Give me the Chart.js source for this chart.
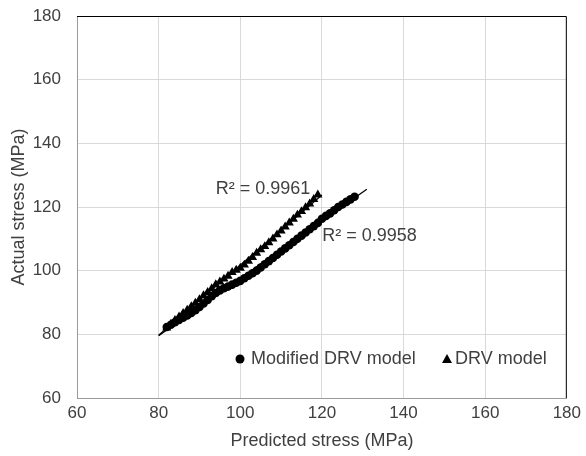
<!DOCTYPE html>
<html>
<head>
<meta charset="utf-8">
<script src="https://cdn.jsdelivr.net/npm/chart.js@4.4.1/dist/chart.umd.min.js"></script>
<style>
  html, body { margin: 0; padding: 0; background: #ffffff; }
  #wrap { width: 586px; height: 456px; }
</style>
</head>
<body>
<div id="wrap"><canvas id="stressChart" width="586" height="456"></canvas></div>
<script>
// Modified DRV model (circles)
const modPredicted = [82, 83, 84, 85, 86, 87, 88, 89, 90, 91, 92, 93, 94, 95, 96, 97, 98, 99, 100, 101, 102, 103, 104, 105,
    106, 107, 108, 109, 110, 111, 112, 113, 114, 115, 116, 117, 118, 119, 120, 121, 122, 123, 124, 125, 126, 127, 128];
const modActual = [82.3, 83, 83.8, 84.5, 85.2, 85.9, 86.7, 87.6, 88.6, 89.7, 90.8, 92, 93, 93.8, 94.5, 95, 95.6, 96.2, 96.8, 97.6, 98.4, 99.2, 100, 101,
    102, 103, 104, 105, 106, 107, 108, 109, 110, 111, 112, 113, 114, 115, 116.3, 117.2, 118, 119, 120, 120.8, 121.6, 122.4, 123.2];

// DRV model (triangles)
const drvPredicted = [82, 83, 84, 85, 86, 87, 88, 89, 90, 91, 92, 93, 94, 95, 96, 97, 98, 99, 100,
    101, 102, 103, 104, 105, 106, 107, 108, 109, 110, 111, 112, 113, 114, 115, 116, 117, 118, 119];
const drvActual = [82, 83.2, 84.4, 85.5, 86.6, 87.6, 88.7, 89.8, 90.9, 92.2, 93.2, 94.4, 95.6, 96.5, 97.4, 98.3, 99.5, 100.2, 100.8,
    101.8, 103, 104.2, 105.5, 106.6, 107.6, 108.8, 110, 111.3, 112.5, 113.8, 115, 116.2, 117.5, 118.6, 119.8, 121, 122.4, 123.8];

// Trendline extents and R² labels
const modTrendRange = [80, 131];
const drvTrendRange = [80, 120];
const modR2 = 'R² = 0.9958';
const drvR2 = 'R² = 0.9961';
const modR2At = [120.1, 111];
const drvR2At = [94, 125.8];

const legendLabels = ['Modified DRV model', 'DRV model'];

function toPoints(xs, ys) {
    return xs.map((x, i) => ({ x: x, y: ys[i] }));
}

// least squares linear fit, like an Excel trendline
function trend(xs, ys, range) {
    const n = xs.length;
    const mx = xs.reduce((a, b) => a + b, 0) / n;
    const my = ys.reduce((a, b) => a + b, 0) / n;
    let sxy = 0, sxx = 0;
    for (let i = 0; i < n; i++) {
        sxy += (xs[i] - mx) * (ys[i] - my);
        sxx += (xs[i] - mx) * (xs[i] - mx);
    }
    const slope = sxy / sxx;
    const icpt = my - slope * mx;
    return range.map(x => ({ x: x, y: icpt + slope * x }));
}

const FONT = "'Liberation Sans', Arial, sans-serif";
const TEXT = '#404040';

// border, R² labels and in-plot legend
const extras = {
    id: 'extras',
    beforeDatasetsDraw(chart) {
        const { ctx, chartArea: a } = chart;
        ctx.save();
        ctx.strokeStyle = '#000000';
        ctx.lineWidth = 1;
        ctx.beginPath();
        ctx.moveTo(a.left, a.top + 0.5);
        ctx.lineTo(a.right - 0.5, a.top + 0.5);
        ctx.lineTo(a.right - 0.5, a.bottom);
        ctx.stroke();
        ctx.restore();
    },
    afterDatasetsDraw(chart) {
        const { ctx, chartArea: a, scales } = chart;
        ctx.save();
        ctx.fillStyle = TEXT;
        ctx.font = '18px ' + FONT;
        ctx.textBaseline = 'middle';
        ctx.textAlign = 'left';
        ctx.fillText(drvR2, scales.x.getPixelForValue(drvR2At[0]), scales.y.getPixelForValue(drvR2At[1]));
        ctx.fillText(modR2, scales.x.getPixelForValue(modR2At[0]), scales.y.getPixelForValue(modR2At[1]));

        // legend
        const ly = a.bottom - 39;
        let lx = a.left + 163;
        ctx.fillStyle = '#000000';
        ctx.beginPath();
        ctx.arc(lx, ly, 4.5, 0, Math.PI * 2);
        ctx.fill();
        ctx.fillStyle = TEXT;
        ctx.fillText(legendLabels[0], lx + 11, ly);
        lx = a.left + 370;
        ctx.fillStyle = '#000000';
        ctx.beginPath();
        ctx.moveTo(lx, ly - 5);
        ctx.lineTo(lx + 5, ly + 4);
        ctx.lineTo(lx - 5, ly + 4);
        ctx.closePath();
        ctx.fill();
        ctx.fillStyle = TEXT;
        ctx.fillText(legendLabels[1], lx + 8, ly);
        ctx.restore();
    }
};

const ctx = document.getElementById('stressChart').getContext('2d');

const stressChart = new Chart(ctx, {
    type: 'scatter',
    data: {
        datasets: [
            {
                label: legendLabels[0],
                data: toPoints(modPredicted, modActual),
                pointStyle: 'circle',
                pointRadius: 4.3,
                backgroundColor: '#000000',
                borderColor: '#000000',
                borderWidth: 0
            },
            {
                label: legendLabels[1],
                data: toPoints(drvPredicted, drvActual),
                pointStyle: 'triangle',
                pointRadius: 5.3,
                backgroundColor: '#000000',
                borderColor: '#000000',
                borderWidth: 0
            },
            {
                type: 'line',
                label: 'Modified trend',
                data: trend(modPredicted, modActual, modTrendRange),
                borderColor: '#000000',
                borderWidth: 1.3,
                pointRadius: 0,
                fill: false
            },
            {
                type: 'line',
                label: 'DRV trend',
                data: trend(drvPredicted, drvActual, drvTrendRange),
                borderColor: '#000000',
                borderWidth: 1.3,
                pointRadius: 0,
                fill: false
            }
        ]
    },
    options: {
        responsive: false,
        animation: false,
        layout: { padding: { left: 4, right: 18, top: 16, bottom: 4 } },
        plugins: {
            legend: { display: false },
            tooltip: { enabled: false }
        },
        scales: {
            x: {
                type: 'linear',
                min: 60,
                max: 180,
                ticks: {
                    stepSize: 20,
                    color: TEXT,
                    font: { family: FONT, size: 17 },
                    padding: 5
                },
                grid: { color: '#d9d9d9', drawTicks: false },
                border: { color: '#9a9a9a', width: 1 },
                title: {
                    display: true,
                    text: 'Predicted stress (MPa)',
                    color: TEXT,
                    font: { family: FONT, size: 18 },
                    padding: { top: 2, bottom: 0 }
                }
            },
            y: {
                type: 'linear',
                min: 60,
                max: 180,
                afterFit(scale) {
                    scale.width = 73;
                    scale.paddingTop = 0;
                },
                ticks: {
                    stepSize: 20,
                    color: TEXT,
                    font: { family: FONT, size: 17 },
                    padding: 16
                },
                grid: { color: '#d9d9d9', drawTicks: false },
                border: { color: '#9a9a9a', width: 1 },
                title: {
                    display: true,
                    text: 'Actual stress (MPa)',
                    color: TEXT,
                    font: { family: FONT, size: 18 },
                    padding: { top: 4, bottom: 0 }
                }
            }
        }
    },
    plugins: [extras]
});
</script>
</body>
</html>
